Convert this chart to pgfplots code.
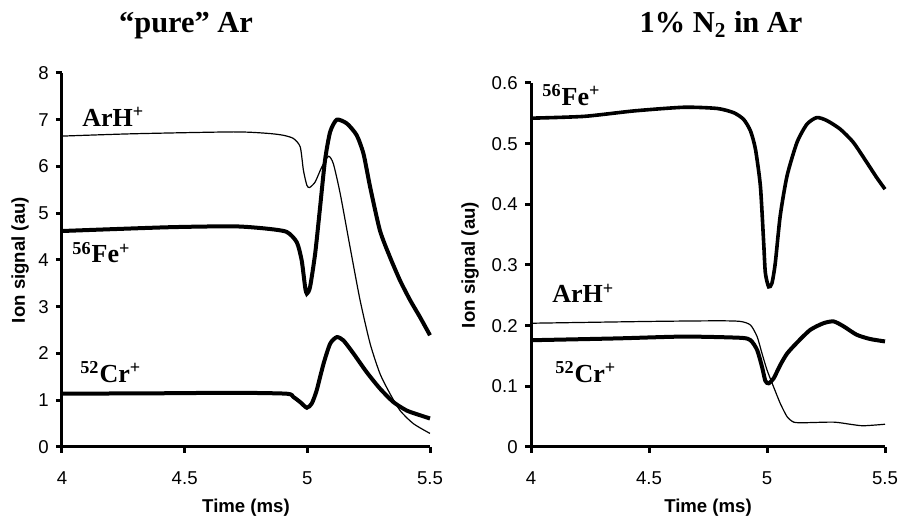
\documentclass[border=0pt]{standalone}
\usepackage{fontspec}
\setmainfont{Liberation Serif}
\newfontfamily\arial{Liberation Sans}
\usepackage{pgfplots}
\pgfplotsset{compat=1.18}

% Time traces of ion signals
\pgfplotstableread{
t v
4.000 6.65
4.290 6.70
4.700 6.74
4.835 6.71
4.900 6.67
4.943 6.60
4.971 6.42
4.984 5.92
4.998 5.60
5.009 5.55
5.032 5.67
5.059 5.99
5.086 6.22
5.106 6.06
5.134 5.42
5.174 4.28
5.215 3.14
5.256 2.21
5.296 1.57
5.337 1.14
5.378 0.78
5.432 0.50
5.500 0.29
}\ArHpure
\pgfplotstableread{
t v
4.000 4.62
4.430 4.70
4.700 4.72
4.835 4.67
4.916 4.60
4.957 4.38
4.977 3.99
4.991 3.42
4.998 3.28
5.011 3.42
5.032 4.14
5.052 5.13
5.072 6.13
5.093 6.74
5.120 7.00
5.161 6.92
5.201 6.67
5.229 6.27
5.256 5.56
5.296 4.63
5.337 4.06
5.378 3.56
5.419 3.14
5.459 2.78
5.500 2.39
}\Fepure
\pgfplotstableread{
t v
4.000 1.14
4.430 1.15
4.700 1.16
4.916 1.14
4.943 1.07
4.971 0.96
4.998 0.84
5.018 0.93
5.038 1.21
5.066 1.78
5.093 2.21
5.120 2.35
5.147 2.28
5.188 2.00
5.242 1.60
5.296 1.25
5.351 0.96
5.405 0.78
5.459 0.68
5.500 0.61
}\Crpure
\pgfplotstableread{
t v
4.000 0.542
4.225 0.545
4.437 0.554
4.648 0.560
4.789 0.558
4.859 0.551
4.901 0.540
4.930 0.521
4.951 0.491
4.972 0.430
4.986 0.336
4.993 0.287
5.007 0.264
5.021 0.270
5.035 0.303
5.056 0.381
5.085 0.447
5.127 0.502
5.169 0.532
5.211 0.543
5.254 0.538
5.310 0.524
5.366 0.502
5.423 0.469
5.465 0.444
5.500 0.425
}\FeNtwo
\pgfplotstableread{
t v
4.000 0.204
4.507 0.207
4.789 0.208
4.887 0.207
4.930 0.201
4.958 0.182
4.979 0.154
5.000 0.127
5.028 0.099
5.056 0.072
5.085 0.050
5.113 0.041
5.155 0.040
5.282 0.041
5.352 0.0375
5.408 0.035
5.500 0.0375
}\ArHNtwo
\pgfplotstableread{
t v
4.000 0.176
4.366 0.179
4.648 0.182
4.887 0.180
4.930 0.176
4.958 0.160
4.979 0.132
4.993 0.109
5.007 0.105
5.028 0.113
5.056 0.135
5.085 0.154
5.127 0.172
5.183 0.193
5.239 0.204
5.282 0.207
5.324 0.199
5.380 0.185
5.437 0.178
5.500 0.174
}\CrNtwo

\pgfplotsset{
  trace/.style={scale only axis,
    axis x line=bottom, axis y line=left,
    axis line style={-, line width=1.5pt},
    tick style={line width=1.5pt, black},
    tick align=outside, major tick length=3pt,
    xmin=4, xmax=5.5, xtick={4,4.5,5,5.5},
    ticklabel style={font=\arial\fontsize{9.3}{11}\selectfont},
    /pgf/number format/assume math mode=true,
    yticklabel style={anchor=east, inner sep=0pt, xshift=-3.5pt},
    xticklabel style={anchor=north, inner sep=0pt, yshift=-9pt},
    label style={font=\arial\bfseries\fontsize{9.3}{11}\selectfont},
    xlabel={Time (ms)}, ylabel={Ion signal (au)},
    clip=false},
}
\tikzset{
  thickline/.style={black, line width=2pt, smooth, tension=0.4},
  thinline/.style={black, line width=0.6pt, smooth, tension=0.4},
  tag/.style={anchor=base west, inner sep=0pt, font=\bfseries\fontsize{13}{15}\selectfont},
}

\begin{document}
\begin{tikzpicture}
\useasboundingbox (0pt,0pt) rectangle (449.5pt,259pt);

\node[font=\bfseries\fontsize{15.2}{18}\selectfont, anchor=base] at (93pt,242.5pt) {“pure” Ar};
\node[font=\bfseries\fontsize{15.2}{18}\selectfont, anchor=base] at (360.5pt,242.5pt) {1\% N\textsubscript{2} in Ar};

\begin{axis}[trace, at={(31pt,35.5pt)}, anchor=south west,
  width=184pt, height=187pt,
  ymin=0, ymax=8, ytick={0,1,...,8},
  xlabel style={at={(axis description cs:0.5,-0.163)}, anchor=center},
  ylabel style={at={(axis description cs:-0.114,0.5)}, anchor=center}]
\addplot[thinline] table[x=t, y=v] {\ArHpure};
\addplot[thickline] table[x=t, y=v] {\Fepure};
\addplot[thickline] table[x=t, y=v] {\Crpure};
\node[tag] at (axis cs:4.0815,6.866) {ArH\textsuperscript{+}};
\node[tag] at (axis cs:4.041,3.936) {\textsuperscript{56}Fe\textsuperscript{+}};
\node[tag] at (axis cs:4.073,1.39) {\textsuperscript{52}Cr\textsuperscript{+}};
\end{axis}

\begin{axis}[trace, at={(265.5pt,35.5pt)}, anchor=south west,
  width=177pt, height=182pt,
  ymin=0, ymax=0.6, ytick={0,0.1,...,0.6},
  yticklabel style={/pgf/number format/.cd, fixed, precision=1},
  xlabel style={at={(axis description cs:0.5,-0.1676)}, anchor=center},
  ylabel style={at={(axis description cs:-0.172,0.5)}, anchor=center}]
\addplot[black, line width=1.8pt, smooth, tension=0.4] table[x=t, y=v] {\FeNtwo};
\addplot[thinline] table[x=t, y=v] {\ArHNtwo};
\addplot[thickline] table[x=t, y=v] {\CrNtwo};
\node[tag] at (axis cs:4.047,0.5637) {\textsuperscript{56}Fe\textsuperscript{+}};
\node[tag] at (axis cs:4.089,0.2374) {ArH\textsuperscript{+}};
\node[tag] at (axis cs:4.102,0.1071) {\textsuperscript{52}Cr\textsuperscript{+}};
\end{axis}
\end{tikzpicture}
\end{document}
